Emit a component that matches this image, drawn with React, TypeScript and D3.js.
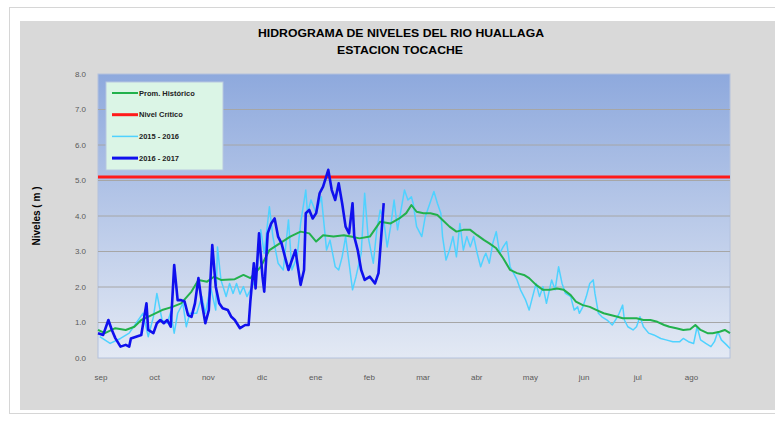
import React from "react";
import * as d3 from "d3";

// hydrological year, day index 0 = 1 sep
const months = ["sep", "oct", "nov", "dic", "ene", "feb", "mar", "abr", "may", "jun", "jul", "ago"];
const yTicks = [0, 1, 2, 3, 4, 5, 6, 7, 8];
const nivelCritico = 5.1;

// [day, nivel m]
const promHistorico: [number, number][] = [
  [0, 0.79], [4, 0.7], [10, 0.84], [16, 0.79], [21, 0.88], [25, 1.07], [31, 1.21], [37, 1.35],
  [43, 1.44], [48, 1.54], [54, 1.87], [58, 2.2], [63, 2.15], [67, 2.29], [71, 2.2], [79, 2.22],
  [84, 2.34], [88, 2.25], [94, 2.57], [99, 3.04], [105, 3.23], [111, 3.42], [117, 3.56], [122, 3.51],
  [126, 3.28], [130, 3.46], [136, 3.42], [142, 3.46], [146, 3.42], [151, 3.37], [157, 3.42], [163, 3.84],
  [169, 3.79], [174, 3.93], [178, 4.08], [181, 4.31], [184, 4.12], [188, 4.08], [192, 4.08], [196, 4.03],
  [199, 3.89], [203, 3.7], [207, 3.56], [211, 3.61], [215, 3.61], [219, 3.46], [223, 3.32], [226, 3.23],
  [230, 3.09], [234, 2.81], [238, 2.48], [242, 2.39], [246, 2.34], [249, 2.25], [253, 2.06], [257, 1.92],
  [261, 1.92], [265, 1.96], [269, 1.92], [273, 1.77], [276, 1.59], [280, 1.49], [284, 1.44], [288, 1.35],
  [292, 1.26], [296, 1.21], [300, 1.16], [303, 1.12], [307, 1.12], [311, 1.12], [315, 1.07], [319, 1.07],
  [323, 1.02], [327, 0.93], [330, 0.88], [334, 0.84], [338, 0.79], [342, 0.81], [345, 0.93], [348, 0.79],
  [352, 0.7], [355, 0.7], [359, 0.74], [362, 0.79], [365, 0.7],
];

const serie2015: [number, number][] = [
  [1, 0.6], [7, 0.41], [13, 0.55], [18, 0.7], [26, 1.26], [29, 0.6], [32, 1.16], [34, 1.82],
  [37, 1.07], [40, 0.98], [42, 1.3], [44, 0.7], [46, 1.26], [49, 1.54], [51, 0.88], [53, 1.26],
  [57, 1.26], [60, 1.73], [62, 1.26], [65, 2.01], [68, 1.35], [69, 3.13], [71, 2.2], [74, 1.73],
  [76, 2.1], [78, 1.82], [80, 2.1], [82, 1.8], [84, 2.01], [86, 1.73], [90, 2.1], [92, 2.57],
  [94, 3.61], [96, 2.95], [99, 4.26], [101, 3.42], [104, 2.67], [107, 2.48], [110, 3.89], [112, 2.48],
  [115, 2.85], [117, 3.79], [120, 4.73], [121, 4.08], [123, 4.45], [126, 4.08], [129, 4.54], [132, 3.04],
  [134, 3.32], [137, 2.57], [139, 2.48], [141, 2.85], [143, 3.42], [145, 2.67], [147, 1.92], [149, 2.29],
  [152, 2.95], [154, 4.64], [156, 3.42], [159, 2.67], [161, 3.61], [163, 4.17], [165, 3.89], [167, 3.13],
  [169, 3.7], [171, 4.45], [173, 3.61], [177, 4.73], [179, 4.45], [181, 4.54], [182, 4.36], [184, 3.7],
  [187, 3.42], [189, 3.98], [191, 4.26], [194, 4.69], [196, 4.36], [198, 4.08], [199, 3.42], [201, 2.76],
  [203, 3.04], [205, 3.42], [207, 2.85], [209, 3.79], [211, 3.04], [213, 3.42], [215, 3.13], [217, 3.42],
  [219, 2.95], [221, 2.57], [223, 2.85], [224, 2.95], [226, 2.67], [228, 3.23], [230, 3.56], [232, 2.95],
  [234, 3.13], [236, 3.28], [238, 2.57], [240, 2.39], [242, 2.2], [244, 1.92], [247, 1.63], [249, 1.35],
  [251, 1.73], [253, 2.1], [255, 1.73], [257, 2.01], [259, 1.54], [262, 2.2], [264, 1.92], [266, 2.57],
  [268, 2.1], [270, 1.82], [273, 1.73], [275, 1.35], [277, 1.44], [278, 1.26], [280, 1.44], [282, 1.73],
  [284, 2.1], [286, 2.2], [287, 1.82], [289, 1.26], [291, 1.16], [294, 1.07], [297, 0.93], [300, 1.16],
  [301, 1.26], [303, 1.49], [304, 1.07], [306, 0.88], [309, 0.79], [311, 0.88], [313, 1.16], [315, 0.88],
  [318, 0.7], [321, 0.65], [325, 0.55], [328, 0.51], [332, 0.46], [336, 0.46], [338, 0.55], [341, 0.46],
  [344, 0.41], [346, 0.88], [348, 0.51], [351, 0.41], [354, 0.32], [356, 0.46], [358, 0.74], [360, 0.51],
  [363, 0.37], [365, 0.27],
];

const serie2016: [number, number][] = [
  [0, 0.7], [3, 0.65], [6, 1.07], [8, 0.79], [10, 0.56], [13, 0.32], [16, 0.37], [18, 0.32],
  [19, 0.55], [22, 0.6], [25, 0.65], [28, 1.54], [29, 0.79], [32, 0.7], [34, 0.98], [36, 1.07],
  [38, 0.98], [40, 1.07], [42, 0.88], [43, 1.73], [44, 2.62], [46, 1.63], [48, 1.63], [50, 1.59],
  [52, 1.21], [54, 1.16], [56, 1.54], [58, 2.25], [60, 1.54], [62, 0.98], [64, 1.35], [66, 3.18],
  [68, 2.01], [70, 1.54], [72, 1.4], [75, 1.35], [77, 1.16], [79, 1.07], [82, 0.84], [85, 0.93],
  [87, 0.93], [88, 1.6], [90, 2.67], [91, 1.96], [93, 3.51], [95, 2.29], [96, 1.87], [98, 3.51],
  [100, 3.79], [102, 3.93], [104, 3.42], [106, 3.23], [108, 2.85], [110, 2.48], [112, 2.76], [114, 3.04],
  [116, 2.39], [117, 2.06], [119, 2.48], [120, 4.08], [122, 4.17], [124, 3.93], [126, 4.08], [128, 4.64],
  [130, 4.83], [133, 5.3], [135, 4.73], [137, 4.45], [139, 4.92], [141, 4.36], [143, 3.7], [145, 3.51],
  [147, 4.36], [148, 3.42], [150, 3.04], [152, 2.48], [154, 2.2], [157, 2.29], [160, 2.1], [162, 2.39],
  [164, 3.7], [165, 4.36],
];

const W = 775;
const H = 422;
const plot = { left: 98, right: 730, top: 74, bottom: 358 };

const x = d3.scaleLinear().domain([0, 365]).range([plot.left, plot.right]);
const y = d3.scaleLinear().domain([0, 8]).range([plot.bottom, plot.top]);
const line = d3
  .line<[number, number]>()
  .x((d) => x(d[0]))
  .y((d) => y(d[1]));

const font = "'Liberation Sans', Arial, sans-serif";

const legendItems = [
  { label: "Prom. Histórico", color: "#22b14c", width: 2 },
  { label: "Nivel Crítico", color: "#ff1a1a", width: 3 },
  { label: "2015 - 2016", color: "#4fd2ff", width: 1.5 },
  { label: "2016 - 2017", color: "#1010ee", width: 3 },
];

export default function App() {
  return (
    <svg
      width={W}
      height={H}
      style={{ position: "absolute", left: 0, top: 0, background: "#fff" }}
    >
      <defs>
        <linearGradient id="bg" x1="0" y1="0" x2="0" y2="1">
          <stop offset="0%" stopColor="#8ea9dd" />
          <stop offset="100%" stopColor="#e3e9f4" />
        </linearGradient>
      </defs>
      <rect x={9.5} y={7.5} width={W} height={406} fill="#fff" stroke="#d6d6d6" />
      <rect x={20} y={21} width={W - 20} height={389} fill="#d9d9d9" />

      <text x={401} y={37} textAnchor="middle" fontFamily={font} fontWeight="bold" fontSize={10.5} textLength={286} lengthAdjust="spacingAndGlyphs">
        HIDROGRAMA DE NIVELES  DEL RIO HUALLAGA
      </text>
      <text x={400} y={54} textAnchor="middle" fontFamily={font} fontWeight="bold" fontSize={10.5} textLength={126} lengthAdjust="spacingAndGlyphs">
        ESTACION TOCACHE
      </text>

      <rect
        x={plot.left}
        y={plot.top}
        width={plot.right - plot.left}
        height={plot.bottom - plot.top}
        fill="url(#bg)"
        stroke="#b4c2de"
      />
      {yTicks.slice(1, -1).map((t) => (
        <line key={t} x1={plot.left} x2={plot.right} y1={y(t)} y2={y(t)} stroke="#a6a6a6" strokeWidth={1} />
      ))}
      {yTicks.map((t) => (
        <text
          key={t}
          x={86}
          y={y(t)}
          dy="0.35em"
          textAnchor="end"
          fontFamily={font}
          fontSize={8}
          fill="#595959"
        >
          {d3.format(".1f")(t)}
        </text>
      ))}
      {months.map((m, i) => (
        <text
          key={m}
          x={x(i * 31) + 3}
          y={380}
          textAnchor="middle"
          fontFamily={font}
          fontSize={8}
          fill="#595959"
        >
          {m}
        </text>
      ))}
      <text
        transform={`translate(40,${(plot.top + plot.bottom) / 2}) rotate(-90)`}
        textAnchor="middle"
        fontFamily={font}
        fontWeight="bold"
        fontSize={10}
      >
        Niveles ( m )
      </text>

      <line x1={plot.left} x2={plot.right} y1={y(nivelCritico)} y2={y(nivelCritico)} stroke="#ff1a1a" strokeWidth={3} />
      <path d={line(serie2015) ?? ""} fill="none" stroke="#4fd2ff" strokeWidth={1.5} strokeLinejoin="round" />
      <path d={line(promHistorico) ?? ""} fill="none" stroke="#22b14c" strokeWidth={2} strokeLinejoin="round" />
      <path d={line(serie2016) ?? ""} fill="none" stroke="#1010ee" strokeWidth={2.6} strokeLinejoin="round" />

      <g transform="translate(106,82)">
        <rect width={117} height={88} fill="#dbf5e6" stroke="#b8c8e0" />
        {legendItems.map((it, i) => (
          <g key={it.label} transform={`translate(0,${11 + i * 21.7})`}>
            <line x1={6} x2={32} stroke={it.color} strokeWidth={it.width} />
            <text x={33} dy="0.35em" fontFamily={font} fontWeight="bold" fontSize={7.5} fill="#222">
              {it.label}
            </text>
          </g>
        ))}
      </g>
    </svg>
  );
}
